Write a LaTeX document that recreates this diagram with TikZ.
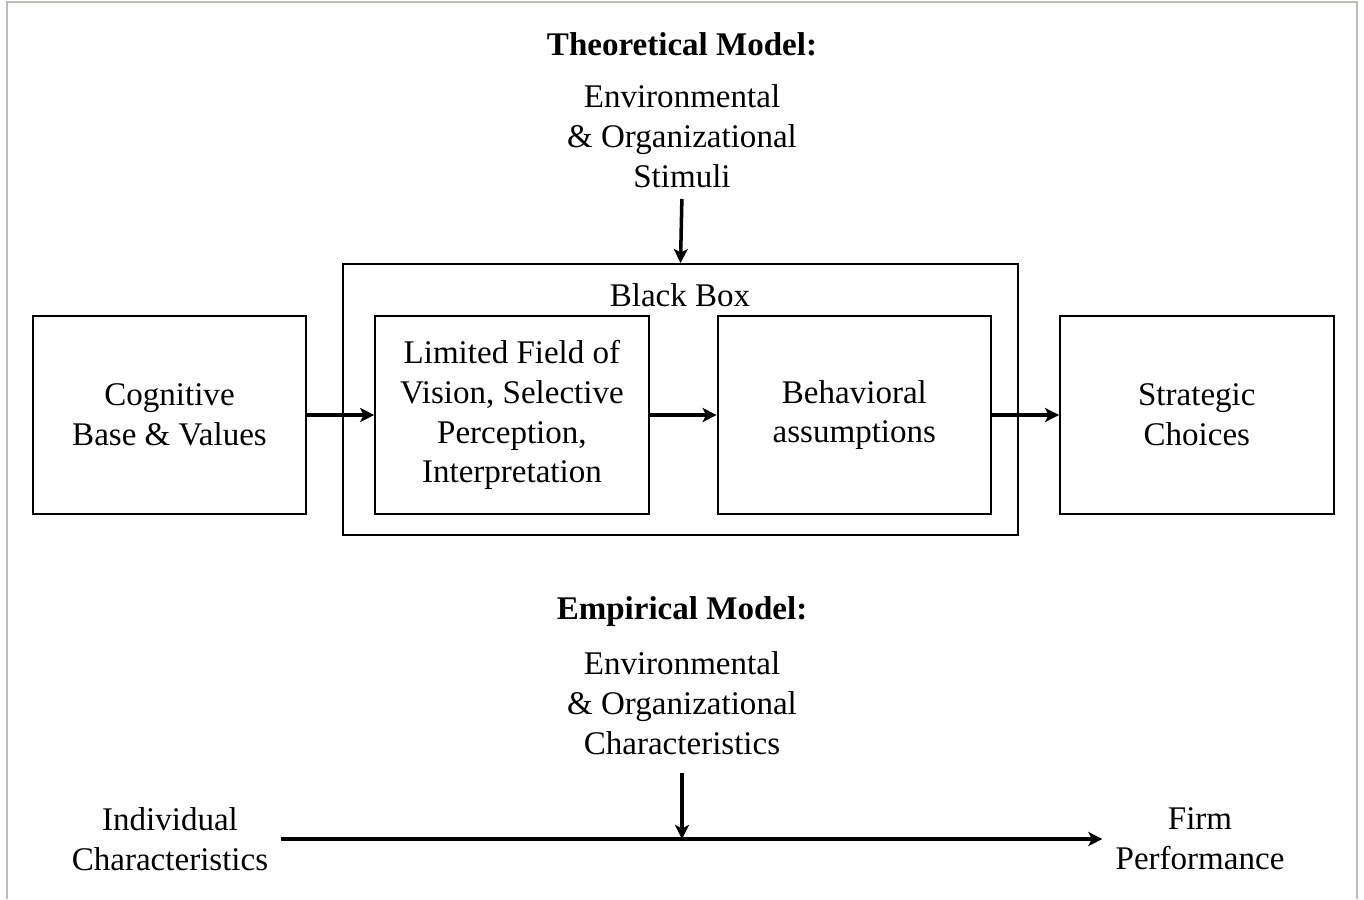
\documentclass[tikz,border=0pt]{standalone}
\usepackage{fontspec}
\setmainfont{Liberation Serif}
\usetikzlibrary{arrows.meta,positioning}

\begin{document}
\begin{tikzpicture}[
  node distance=1.34cm,
  every node/.style={font=\fontsize{18.8}{22.7}\selectfont},
  block/.style={draw, line width=1.1pt, align=center, minimum width=5.47cm, minimum height=3.96cm},
  caption/.style={align=center},
  >={Stealth[length=8pt,width=8pt,inset=2pt]},
  link/.style={->, line width=2pt}
]
\useasboundingbox (0,0) rectangle (27.28,-17.98);
\draw[color={rgb,255:red,189;green,189;blue,184}, line width=1.4pt]
  (0.14,-17.98) -- (0.14,-0.04) -- (27.14,-0.04) -- (27.14,-17.98);

% theoretical model
\node[caption, font=\fontsize{18.8}{22.7}\selectfont\bfseries] (theo) at (13.64,-0.88) {Theoretical Model:};
\node[caption] (stimuli) at (13.64,-2.72) {Environmental\\\& Organizational\\Stimuli};
\node[draw, line width=1.1pt, minimum width=13.5cm, minimum height=5.42cm] (blackbox) at (13.61,-7.99) {};
\node (bblabel) at (13.6,-5.9) {Black Box};
\node[block] (cognitive) at (3.39,-8.3) {Cognitive\\Base \& Values};
\node[block, right=of cognitive] (vision) {Limited Field of\\Vision, Selective\\Perception,\\Interpretation};
\node[block, right=of vision] (behavior) {Behavioral\\assumptions};
\node[block, right=of behavior] (choices) {Strategic\\Choices};

\draw[link, shorten <=3pt] (stimuli.south) -- (blackbox.north);
\draw[link] (cognitive) -- (vision);
\draw[link] (vision) -- (behavior);
\draw[link] (behavior) -- (choices);

% empirical model
\node[caption, font=\fontsize{18.8}{22.7}\selectfont\bfseries] (emp) at (13.64,-12.24) {Empirical Model:};
\node[caption] (traits) at (13.64,-14.06) {Environmental\\\& Organizational\\Characteristics};
\node[caption] (individual) at (3.4,-16.78) {Individual\\Characteristics};
\node[caption] (firm) at (24.0,-16.78) {Firm\\Performance};

\draw[link, shorten <=4pt, shorten >=4pt] (individual) -- (firm);
\draw[link, shorten <=7pt] (traits.south) -- (traits.south |- individual.east);
\end{tikzpicture}
\end{document}
